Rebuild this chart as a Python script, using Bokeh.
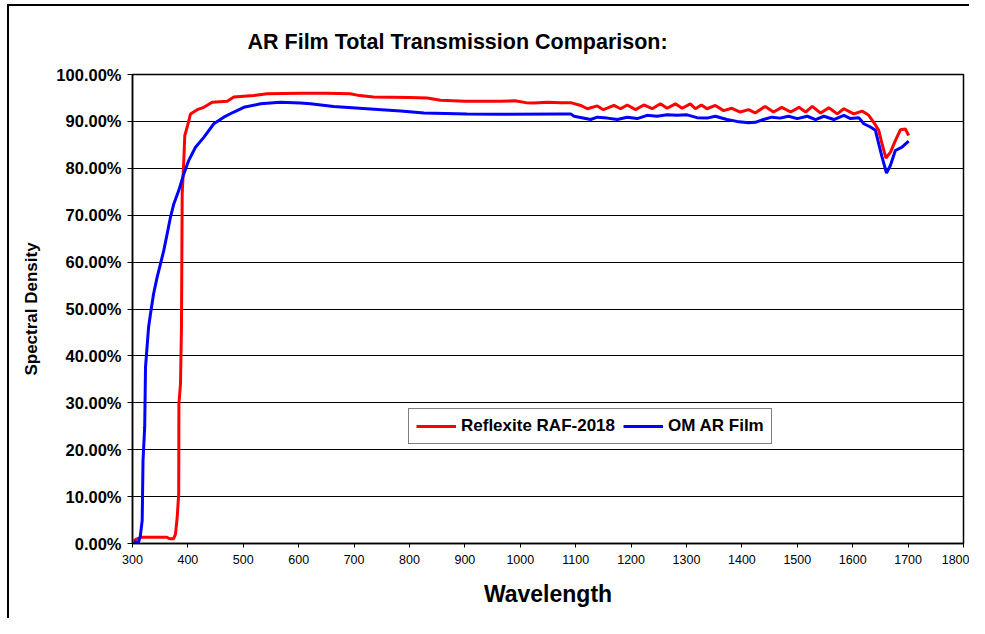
import numpy as np
from bokeh.plotting import figure
from bokeh.models import Legend, LegendItem, Title, FixedTicker, NumeralTickFormatter, Range1d
from bokeh.embed import file_html
from bokeh.resources import INLINE

# Wavelength (nm) and transmission (%)
red_wl = [302, 308, 317, 362, 367, 374, 377.6, 380.7, 383.4, 383.8, 386.6, 388.4, 389.7, 392.6, 394.4,
          398.7, 404.7, 416.8, 428.7, 443.9, 471, 482.9, 519, 543, 603, 650, 693, 710, 735, 800,
          832, 856, 900, 952, 964, 990, 1010, 1024, 1050, 1073, 1091, 1109, 1121, 1139, 1150, 1169,
          1181, 1193, 1208, 1223, 1238, 1253, 1265, 1280, 1292, 1307, 1316, 1327, 1337, 1352, 1367,
          1382, 1397, 1412, 1424, 1442, 1457, 1472, 1488, 1503, 1515, 1527, 1542, 1557, 1572, 1584,
          1602, 1617, 1629, 1638, 1647, 1653, 1660, 1668, 1677, 1686, 1695, 1701]
red_pct = [0.6, 1.0, 1.35, 1.35, 1.0, 1.0, 2.0, 5.6, 10.6, 29.8, 34.0, 46.1, 74.6, 81.7, 87.0,
           88.8, 91.6, 92.5, 93.0, 94.1, 94.3, 95.2, 95.5, 95.9, 96.0, 96.0, 95.9, 95.5, 95.2, 95.1,
           95.0, 94.5, 94.3, 94.3, 94.3, 94.4, 94.0, 93.9, 94.1, 94.0, 94.0, 93.4, 92.7, 93.3, 92.5, 93.4,
           92.7, 93.5, 92.5, 93.5, 92.7, 93.75, 92.8, 93.75, 92.8, 93.75, 92.7, 93.5, 92.7, 93.4, 92.3,
           92.8, 92.0, 92.5, 91.8, 93.2, 92.0, 93.0, 92.0, 93.0, 92.0, 93.2, 91.8, 92.9, 91.6, 92.7,
           91.6, 92.2, 91.3, 89.8, 88.1, 85.2, 82.2, 83.4, 85.9, 88.2, 88.4, 87.0]

blue_wl = [302, 311, 314, 317.5, 319, 322, 323.5, 329, 332.5, 338, 344.5, 350.5, 356.5, 362.5, 368.6,
           374.5, 383.6, 392.6, 401.6, 413.7, 428.7, 446.8, 464.8, 482.9, 501, 531, 567, 603, 621,
           663, 723, 784, 826, 904, 964, 1073, 1091, 1097, 1127, 1139, 1157, 1175, 1193, 1211, 1229,
           1247, 1265, 1283, 1301, 1319, 1337, 1352, 1373, 1391, 1412, 1424, 1439, 1454, 1469, 1484,
           1500, 1518, 1533, 1548, 1566, 1584, 1596, 1611, 1620, 1632, 1641, 1647, 1653, 1661, 1668,
           1677, 1689, 1701]
blue_pct = [0.3, 0.3, 1.5, 4.9, 17.7, 24.8, 37.6, 46.1, 49.0, 53.2, 56.8, 59.6, 62.5, 66.0, 69.6,
            72.4, 75.3, 78.8, 81.7, 84.5, 86.6, 89.5, 90.9, 92.0, 93.0, 93.75, 94.1, 93.9, 93.75,
            93.2, 92.7, 92.2, 91.8, 91.6, 91.5, 91.6, 91.6, 91.1, 90.4, 90.9, 90.7, 90.4, 90.9, 90.6, 91.3,
            91.1, 91.4, 91.3, 91.4, 90.8, 90.7, 91.1, 90.4, 90.0, 89.7, 89.8, 90.4, 90.9, 90.7, 91.1,
            90.6, 91.1, 90.4, 91.1, 90.4, 91.3, 90.6, 90.8, 89.5, 88.8, 88.1, 85.2, 82.4, 79.0, 80.6,
            83.8, 84.5, 85.8]

series_names = ["Reflexite RAF-2018", "OM AR Film"]
x_ticks = list(range(300, 1801, 100))
y_ticks = [i / 10 for i in range(11)]

FONT = "Liberation Sans"

p = figure(width=969, height=618, output_backend="svg", toolbar_location=None,
           x_range=Range1d(300, 1800), y_range=Range1d(0, 1),
           min_border_left=132, min_border_right=6, min_border_top=74, min_border_bottom=75,
           background_fill_color="white", border_fill_color=None)
# outer chart-area frame (only its left and top edges fall inside the picture),
# painted as the page background behind the transparent border area
p.styles = {"background": ("linear-gradient(black, black) 7px 4px / 2px 620px no-repeat, "
                           "linear-gradient(black, black) 7px 4px / 970px 2px no-repeat, white")}

p.add_layout(Title(text="AR Film Total Transmission Comparison:", align="left", offset=115,
                   text_font_size="21.5px", text_font=FONT, text_font_style="bold",
                   text_color="black", standoff=42), "above")

r1 = p.line(red_wl, np.array(red_pct) / 100, line_color="#FF0000", line_width=3)
r2 = p.line(blue_wl, np.array(blue_pct) / 100, line_color="#0000FF", line_width=3)

p.xgrid.grid_line_color = None
p.ygrid.grid_line_color = "black"
p.ygrid.grid_line_width = 1
p.outline_line_color = "black"
p.outline_line_width = 1.5

p.xaxis.ticker = FixedTicker(ticks=x_ticks)
p.yaxis.ticker = FixedTicker(ticks=y_ticks)
p.yaxis.formatter = NumeralTickFormatter(format="0.00%")
for ax in (p.xaxis[0], p.yaxis[0]):
    ax.axis_line_color = "black"
    ax.axis_line_width = 1.5
    ax.major_tick_line_color = "black"
    ax.minor_tick_line_color = None
    ax.major_tick_in = 0
    ax.major_label_text_color = "black"
    ax.major_label_text_font = FONT
    ax.axis_label_text_font = FONT
    ax.axis_label_text_font_style = "bold"
    ax.axis_label_text_color = "black"

p.xaxis.major_tick_out = 4
p.xaxis.major_label_text_font_size = "12.5px"
p.xaxis.major_label_standoff = 7
p.xaxis.axis_label = "Wavelength"
p.xaxis.axis_label_text_font_size = "23px"
p.xaxis.axis_label_standoff = 14

p.yaxis.major_tick_out = 5
p.yaxis.major_label_text_font_size = "16.5px"
p.yaxis.major_label_standoff = 6
p.yaxis.major_label_text_font_style = "bold"
p.yaxis.axis_label = "Spectral Density"
p.yaxis.axis_label_text_font_size = "17px"
p.yaxis.axis_label_standoff = 12

legend = Legend(items=[LegendItem(label=series_names[0], renderers=[r1]),
                       LegendItem(label=series_names[1], renderers=[r2])],
                location=(276, 99), orientation="horizontal",
                border_line_color="black", border_line_width=1.5,
                glyph_width=40, glyph_height=18, label_standoff=5, spacing=8,
                padding=7, margin=0, background_fill_color="white",
                label_text_font=FONT, label_text_font_size="17px",
                label_text_font_style="bold", label_text_color="black")
p.add_layout(legend)

open("out.html", "w").write(file_html(p, INLINE))
